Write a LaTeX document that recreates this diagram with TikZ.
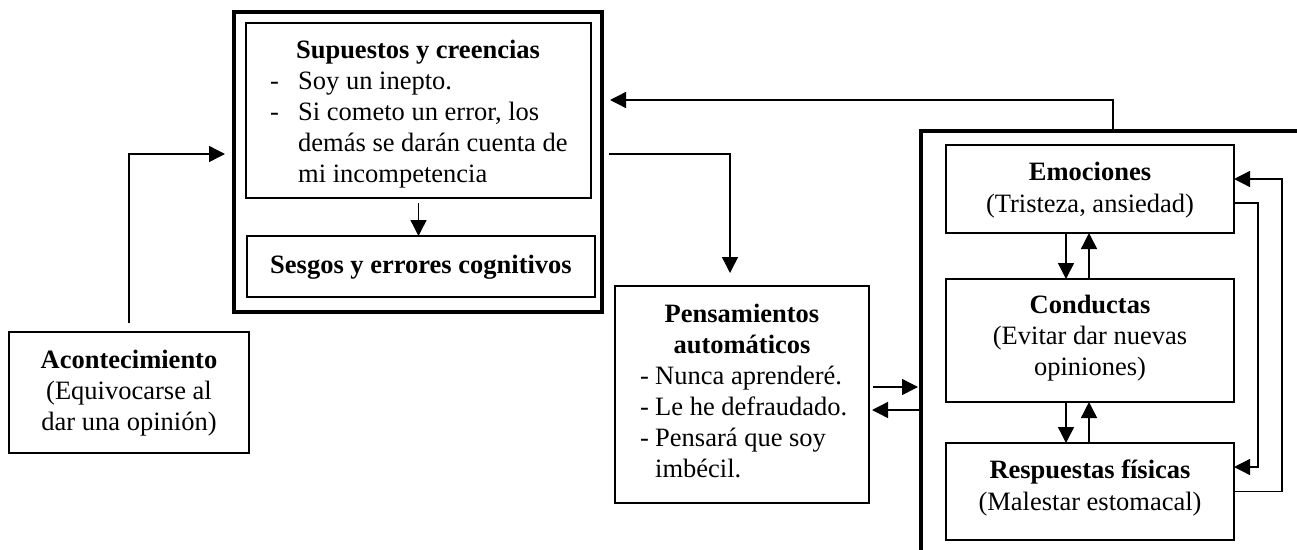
\documentclass[tikz,border=0pt]{standalone}
\usepackage{fontspec}
\setmainfont{Liberation Serif}
\usetikzlibrary{arrows.meta,calc}
\begin{document}
\begin{tikzpicture}[x=1pt,y=-1pt,
  box/.style={draw, line width=1.6pt, inner sep=0pt, outer sep=0pt, anchor=north west},
  thickbox/.style={draw, line width=3.6pt, inner sep=0pt, outer sep=0pt, anchor=north west},
  arr/.style={line width=1.4pt, -{Triangle[length=16pt,width=16pt]}},
  txt/.style={inner sep=0pt, font=\fontsize{26.5}{31}\selectfont},
  btxt/.style={txt, font=\fontsize{26.5}{31}\selectfont\bfseries}]
\useasboundingbox (0,0) rectangle (1297,549);

% boxes
\node[thickbox, minimum width=368pt, minimum height=300pt] (outer) at (234,12) {};
\node[box, minimum width=345pt, minimum height=175pt] (sup) at (246,23) {};
\node[box, minimum width=348pt, minimum height=61pt] (ses) at (247,236) {};
\node[box, minimum width=240pt, minimum height=121pt] (acon) at (9,332) {};
\node[box, minimum width=254pt, minimum height=217pt] (pen) at (615,286) {};
\node[box, minimum width=288pt, minimum height=88pt] (emo) at (946,145) {};
\node[box, minimum width=288pt, minimum height=123pt] (con) at (946,279) {};
\node[box, minimum width=288pt, minimum height=97pt] (res) at (946,443) {};

% right open container
\coordinate (cbl) at (921,551);
\coordinate (ctl) at (921,131);
\coordinate (ctr) at (1299,131);
\draw[line width=3.6pt] (cbl) -- (ctl) -- (ctr);
\coordinate (ctop) at (1113,131);

% texts: Supuestos
\node[btxt, anchor=base] (s0) at (418,58) {Supuestos y creencias};
\node[txt, anchor=base west] (s1d) at (270,89) {-};
\node[txt, anchor=base west] (s1) at (298,89) {Soy un inepto.};
\node[txt, anchor=base west] (s2d) at (270,120) {-};
\node[txt, anchor=base west] (s2) at (298,120) {Si cometo un error, los};
\node[txt, anchor=base west] (s3) at (298,151) {demás se darán cuenta de};
\node[txt, anchor=base west] (s4) at (298,182) {mi incompetencia};
\node[btxt, anchor=base] (se) at (421,273) {Sesgos y errores cognitivos};

% Acontecimiento
\node[btxt, anchor=base] (a0) at (129,368) {Acontecimiento};
\node[txt, anchor=base] (a1) at (129,399) {(Equivocarse al};
\node[txt, anchor=base] (a2) at (129,430) {dar una opinión)};

% Pensamientos
\node[btxt, anchor=base] (p0) at (742,322) {Pensamientos};
\node[btxt, anchor=base] (p1) at (742,353) {automáticos};
\node[txt, anchor=base west] (p2d) at (640,384) {-};
\node[txt, anchor=base west] (p2) at (655,384) {Nunca aprenderé.};
\node[txt, anchor=base west] (p3d) at (640,415) {-};
\node[txt, anchor=base west] (p3) at (655,415) {Le he defraudado.};
\node[txt, anchor=base west] (p4d) at (640,446) {-};
\node[txt, anchor=base west] (p4) at (655,446) {Pensará que soy};
\node[txt, anchor=base west] (p5) at (655,477) {imbécil.};

% Emociones / Conductas / Respuestas
\node[btxt, anchor=base] (e0) at (1090,180) {Emociones};
\node[txt, anchor=base] (e1) at (1090,212) {(Tristeza, ansiedad)};
\node[btxt, anchor=base] (c0) at (1090,313) {Conductas};
\node[txt, anchor=base] (c1) at (1090,344) {(Evitar dar nuevas};
\node[txt, anchor=base] (c2) at (1090,375) {opiniones)};
\node[btxt, anchor=base] (r0) at (1090,478) {Respuestas físicas};
\node[txt, anchor=base] (r1) at (1090,510) {(Malestar estomacal)};

% connectors
\draw[arr, shorten <=9pt, shorten >=9pt] (acon.north) |- (outer.west |- 0,154);
\draw[arr, shorten >=8pt] (ctop) |- (outer.east |- 0,100);
\draw[arr, shorten <=7pt, shorten >=13pt] (outer.east |- 0,154) -| ($(pen.north west)+(115,0)$);
\draw[arr, shorten <=5pt] (sup.south) -- (sup.south |- ses.north);

\draw[arr, shorten <=4pt, shorten >=3pt] (pen.east |- 0,387) -- (ctl |- 0,387);
\draw[arr, shorten <=2pt, shorten >=3pt] (ctl |- 0,410) -- (pen.east |- 0,410);

\draw[arr] ($(emo.south west)+(120,0)$) -- ($(con.north west)+(120,0)$);
\draw[arr] ($(con.north west)+(143,0)$) -- ($(emo.south west)+(143,0)$);
\draw[arr] ($(con.south west)+(120,0)$) -- ($(res.north west)+(120,0)$);
\draw[arr] ($(res.north west)+(143,0)$) -- ($(con.south west)+(143,0)$);

\draw[arr] (res.east) -- ++(48,0) |- ($(emo.north east)+(0,34)$);
\draw[arr] ($(emo.north east)+(0,58)$) -- ++(24,0) |- ($(res.north east)+(0,24)$);
\end{tikzpicture}
\end{document}
